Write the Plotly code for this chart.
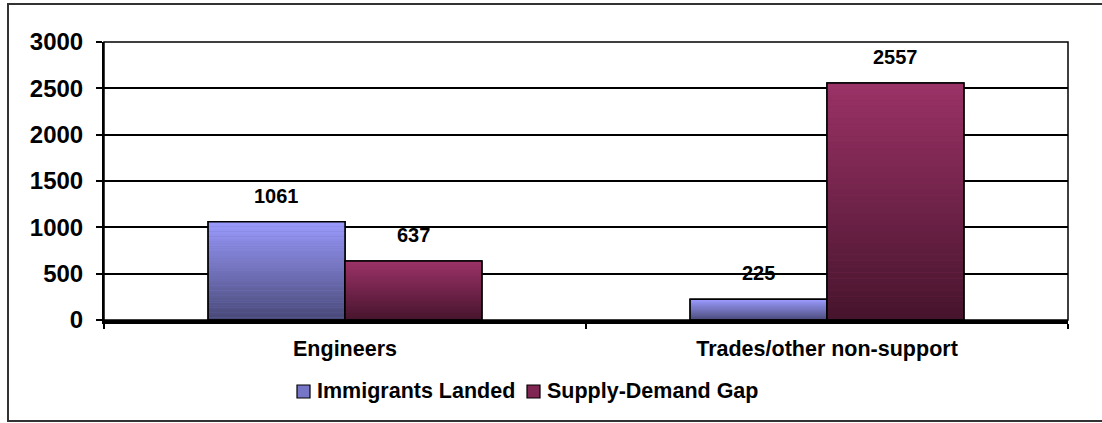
import plotly.graph_objects as go

categories = ["Engineers", "Trades/other non-support"]
immigrants_landed = [1061, 225]
supply_demand_gap = [637, 2557]
series_names = ["Immigrants Landed", "Supply-Demand Gap"]
y_ticks = [0, 500, 1000, 1500, 2000, 2500, 3000]

FONT = "Liberation Sans, Arial, sans-serif"
BAR_W = 0.284
N_SEG = 40

# plot area geometry (pixels) for paper-coordinate helpers
PL, PR, PT, PB = 104, 1068, 42, 320
def px(x):
    return (x - PL) / (PR - PL)
def py(y):
    return (PB - y) / (PB - PT)

series = [
    dict(name=series_names[0], values=immigrants_landed, offset=-BAR_W,
         top=(155, 155, 255), bottom=(72, 72, 118), mid="rgb(118,118,200)",
         sym_x=297, txt_x=315),
    dict(name=series_names[1], values=supply_demand_gap, offset=0.0,
         top=(155, 50, 103), bottom=(70, 20, 44), mid="rgb(128,38,82)",
         sym_x=527, txt_x=545),
]

fig = go.Figure()

for s in series:
    fig.add_trace(go.Bar(
        x=categories, y=s["values"], name=s["name"], offset=s["offset"], width=BAR_W,
        marker=dict(color=s["mid"], line=dict(color="black", width=1.5)),
        hoverinfo="skip", showlegend=False,
    ))
    # vertical gradient built from stacked slices of each bar
    xs, ys, bases, cols = [], [], [], []
    for i in range(N_SEG):
        t = (i + 0.5) / N_SEG
        c = tuple(round(b + (tp - b) * t) for b, tp in zip(s["bottom"], s["top"]))
        for cat, v in zip(categories, s["values"]):
            xs.append(cat)
            ys.append(v / N_SEG * 1.02 if i < N_SEG - 1 else v / N_SEG)
            bases.append(v * i / N_SEG)
            cols.append("rgb(%d,%d,%d)" % c)
    fig.add_trace(go.Bar(
        x=xs, y=ys, base=bases, offset=s["offset"], width=BAR_W,
        marker=dict(color=cols, line=dict(width=0)),
        showlegend=False, hoverinfo="skip",
    ))
    fig.add_trace(go.Bar(
        x=categories, y=s["values"], offset=s["offset"], width=BAR_W,
        marker=dict(color="rgba(0,0,0,0)", line=dict(color="black", width=1.5)),
        showlegend=False, hoverinfo="skip",
    ))

# value labels
for s in series:
    for cat, v in zip(categories, s["values"]):
        fig.add_annotation(
            x=cat, y=v, text=str(v), showarrow=False,
            xshift=(s["offset"] + BAR_W / 2) * 482, yshift=26, yanchor="middle",
            font=dict(family=FONT, size=20, color="black", weight="bold"),
        )

# legend (Excel-style: small square right next to the text)
for s in series:
    fig.add_shape(type="rect", xref="paper", yref="paper",
                  x0=px(s["sym_x"]), x1=px(s["sym_x"] + 13),
                  y0=py(398), y1=py(385),
                  fillcolor=s["mid"], line=dict(color="black", width=1.2))
    fig.add_annotation(xref="paper", yref="paper", x=px(s["txt_x"]), y=py(391),
                       xanchor="left", yanchor="middle", showarrow=False, text=s["name"],
                       font=dict(family=FONT, size=21.5, color="black", weight="bold"))

# plot frame (top + right)
fig.add_shape(type="rect", xref="paper", yref="paper", x0=0, x1=1, y0=0, y1=1,
              line=dict(color="black", width=1.5), layer="above")
# outer border of the chart object
fig.add_shape(type="rect", xref="paper", yref="paper",
              x0=px(8), x1=px(1115), y0=py(421), y1=py(4),
              line=dict(color="#333333", width=2))

fig.update_layout(
    width=1102, height=423,
    margin=dict(l=PL, r=1102 - PR, t=PT, b=423 - PB),
    paper_bgcolor="white", plot_bgcolor="white",
    barmode="overlay",
    font=dict(family=FONT, color="black"),
    showlegend=False,
)
fig.update_xaxes(
    type="category", showline=True, linecolor="black", linewidth=4,
    ticks="outside", tickson="boundaries", ticklen=5, tickwidth=1.5, tickcolor="black",
    tickfont=dict(family=FONT, size=21.5, color="black", weight="bold"),
    ticklabelstandoff=6, showgrid=False,
)
fig.update_yaxes(
    range=[0, 3000], tickvals=y_ticks,
    showline=True, linecolor="black", linewidth=2,
    showgrid=True, gridcolor="black", gridwidth=1.5, zeroline=False,
    ticks="outside", ticklen=6, tickwidth=1.5, tickcolor="black",
    tickfont=dict(family=FONT, size=24, color="black", weight="bold"),
    ticklabelstandoff=8,
)

fig.write_html("out.html")
